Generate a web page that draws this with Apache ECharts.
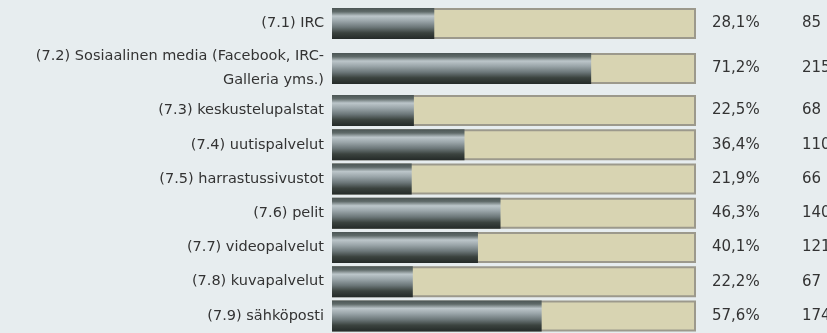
<!DOCTYPE html>
<html>
<head>
<meta charset="utf-8">
<script src="https://cdn.jsdelivr.net/npm/echarts@6/dist/echarts.min.js"></script>
<style>
  html, body { margin: 0; padding: 0; background: #e7edef; }
  #chart { width: 827px; height: 333px; }
</style>
</head>
<body>
<div id="chart"></div>
<script>
// row labels, percentages and answer counts
const categories = [
  '(7.1) IRC',
  '(7.2) Sosiaalinen media (Facebook, IRC-\nGalleria yms.)',
  '(7.3) keskustelupalstat',
  '(7.4) uutispalvelut',
  '(7.5) harrastussivustot',
  '(7.6) pelit',
  '(7.7) videopalvelut',
  '(7.8) kuvapalvelut',
  '(7.9) sähköposti'
];
const percents = [28.1, 71.2, 22.5, 36.4, 21.9, 46.3, 40.1, 22.2, 57.6];
const counts = [85, 215, 68, 110, 66, 140, 121, 67, 174];
const fullScale = 100;

const chart = echarts.init(document.getElementById('chart'));

const fillGradient = new echarts.graphic.LinearGradient(0, 0, 0, 1, [
  { offset: 0, color: '#4b5554' },
  { offset: 0.12, color: '#5f6a69' },
  { offset: 0.26, color: '#bcc6ca' },
  { offset: 0.42, color: '#9ba6aa' },
  { offset: 0.62, color: '#6c7779' },
  { offset: 0.8, color: '#3b433f' },
  { offset: 1, color: '#242a28' }
]);

// first two rows are taller (two-line label), so they get their own grid
const groups = [[0, 2], [2, 9]];
const grids = [
  { left: 332, right: 131, top: 1, height: 90 },
  { left: 332, right: 131, top: 93.4, height: 246.2 }
];

const xAxes = [], yAxes = [], series = [];
groups.forEach(function (g, i) {
  const cats = categories.slice(g[0], g[1]);
  const pcts = percents.slice(g[0], g[1]);
  const cnts = counts.slice(g[0], g[1]);
  xAxes.push({
    gridIndex: i, type: 'value', min: 0, max: fullScale, show: false
  });
  yAxes.push({
    gridIndex: i, type: 'category', data: cats, inverse: true,
    axisLine: { show: false }, axisTick: { show: false }, splitLine: { show: false },
    axisLabel: {
      margin: 8, color: '#333', fontSize: 14.5, lineHeight: 24,
      fontFamily: 'DejaVu Sans', align: 'right'
    }
  });
  series.push({
    type: 'bar', xAxisIndex: i, yAxisIndex: i, barWidth: 31, barGap: '-100%',
    silent: true, z: 1,
    data: cats.map(function () { return fullScale; }),
    itemStyle: { color: '#d8d4b2', borderColor: '#9c998c', borderWidth: 2 },
    label: {
      show: true, position: 'right', distance: 16,
      formatter: function (p) {
        return '{p|' + pcts[p.dataIndex].toFixed(1).replace('.', ',') + '%}{n|' + cnts[p.dataIndex] + '}';
      },
      rich: {
        p: { width: 90, fontSize: 15, color: '#333', fontFamily: 'DejaVu Sans' },
        n: { fontSize: 15, color: '#333', fontFamily: 'DejaVu Sans' }
      }
    }
  });
  series.push({
    type: 'bar', xAxisIndex: i, yAxisIndex: i, barWidth: 31, z: 2,
    data: pcts,
    itemStyle: { color: fillGradient }
  });
});

chart.setOption({
  backgroundColor: '#e7edef',
  animation: false,
  grid: grids,
  xAxis: xAxes,
  yAxis: yAxes,
  series: series
});
</script>
</body>
</html>
